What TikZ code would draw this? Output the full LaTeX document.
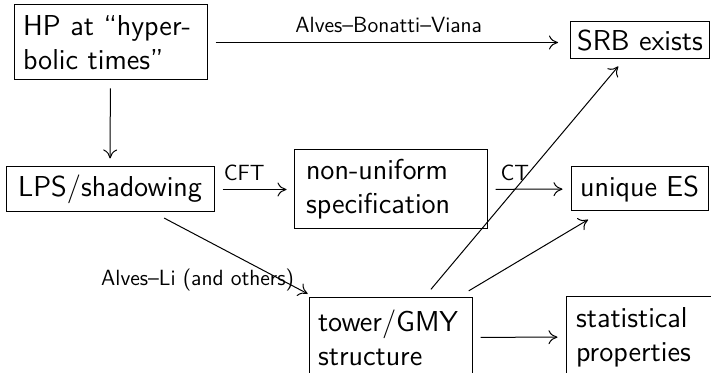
\documentclass[tikz,border=0pt]{standalone}
\usetikzlibrary{arrows.meta}
\begin{document}
\begin{tikzpicture}[x=0.5pt,y=-0.5pt,
  font=\sffamily\fontsize{14.4}{17}\selectfont,
  % framed object with two left-aligned lines: width, height, text width
  bx/.style n args={3}{draw, line width=0.5pt, inner sep=0pt,
    minimum width=#1, minimum height=#2, text width=#3, align=left},
  % framed object with one line: width, height
  sbx/.style 2 args={draw, line width=0.5pt, inner sep=0pt,
    minimum width=#1, minimum height=#2},
  conn/.style={line width=0.5pt, -{To[length=4.5pt,width=7pt]}},
  lab/.style={font=\sffamily\fontsize{11}{13}\selectfont, inner sep=0pt}]
\useasboundingbox (0,0) rectangle (711,373);

\node[bx={96.5pt}{37.5pt}{87.5pt}] (hp)    at (110.5,42.5) {HP at ``hyper-\\bolic times''};
\node[sbx={69.5pt}{18.5pt}]        (srb)   at (640,40.5)   {SRB exists};
\node[sbx={104pt}{22.5pt}]         (lps)   at (110,189.5)  {LPS/shadowing};
\node[bx={96.5pt}{39.5pt}{84.5pt}] (nu)    at (390.5,189.5){non-uniform\\specification};
\node[sbx={68.5pt}{22pt}]          (es)    at (639.5,189)  {unique ES};
\node[bx={81.5pt}{39.5pt}{72.5pt}] (tower) at (390.5,337.5){tower/GMY\\structure};
\node[bx={74pt}{40pt}{64pt}]       (stat)  at (640,337)    {statistical\\properties};

\draw[conn, shorten <=4pt, shorten >=6pt] (hp.east) -- (hp.east -| srb.west)
  node[lab, midway, above=4.5pt] (abv) {Alves--Bonatti--Viana};
\draw[conn, shorten <=4pt, shorten >=4pt] (hp) -- (lps);
\draw[conn, shorten <=4pt, shorten >=3.5pt] (lps) -- (nu)
  node[lab, pos=0.375, above=4pt] (cft) {CFT};
\draw[conn, shorten <=4pt, shorten >=4pt] (nu) -- (es)
  node[lab, pos=0.33, above=4pt] (ct) {CT};
\draw[conn, shorten <=6pt, shorten >=4pt] (lps) -- (tower)
  node[lab, pos=0.874, anchor=east, yshift=3.5pt] (al) {Alves--Li (and others)};
\draw[conn, shorten <=5.3pt, shorten >=4.5pt] (tower) -- (srb);
\draw[conn, shorten <=6.5pt, shorten >=8pt] (tower) -- (es);
\draw[conn, shorten <=4pt, shorten >=4pt] (tower) -- (stat);
\end{tikzpicture}
\end{document}
